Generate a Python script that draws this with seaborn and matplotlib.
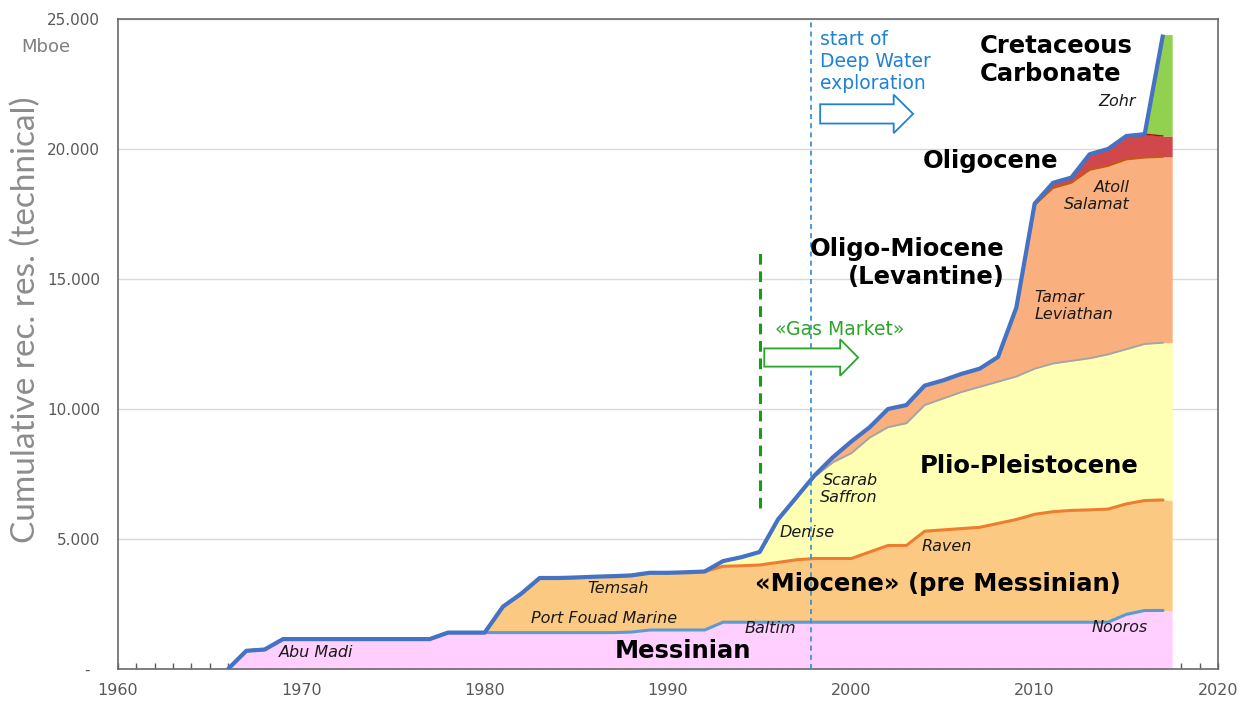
import numpy as np
import pandas as pd
import matplotlib
matplotlib.use("Agg")
import matplotlib.pyplot as plt
from matplotlib.patches import FancyArrow
from matplotlib.ticker import MultipleLocator, FuncFormatter
import seaborn as sns

# cumulative recoverable reserves by play (Mboe), one value per year 1966-2017
years = list(range(1966, 2018))

messinian = [0, 700, 750, 1150, 1150, 1150, 1150, 1150, 1150, 1150, 1150, 1150,
             1400, 1400, 1400, 1400, 1400, 1400, 1400, 1400, 1400, 1400, 1420,
             1500, 1500, 1500, 1500, 1800, 1800, 1800, 1800, 1800, 1800, 1800,
             1800, 1800, 1800, 1800, 1800, 1800, 1800, 1800, 1800, 1800, 1800,
             1800, 1800, 1800, 1800, 2100, 2250, 2250]
miocene = [0, 0, 0, 0, 0, 0, 0, 0, 0, 0, 0, 0, 0, 0, 0,
           1000, 1500, 2100, 2100, 2120, 2150, 2170, 2180, 2200, 2200, 2220,
           2250, 2150, 2170, 2200, 2300, 2400, 2450, 2450, 2450, 2700, 2950,
           2950, 3500, 3550, 3600, 3650, 3800, 3950, 4150, 4250, 4300, 4320,
           4350, 4250, 4230, 4250]
plio_pleistocene = [0, 0, 0, 0, 0, 0, 0, 0, 0, 0, 0, 0, 0, 0, 0, 0, 0, 0, 0,
                    0, 0, 0, 0, 0, 0, 0, 0,
                    200, 330, 500, 1650, 2400, 3150, 3700, 4050, 4400, 4550,
                    4700, 4850, 5050, 5250, 5400, 5450, 5500, 5600, 5700, 5750,
                    5830, 5950, 5950, 6020, 6050]
oligo_miocene = [0, 0, 0, 0, 0, 0, 0, 0, 0, 0, 0, 0, 0, 0, 0, 0, 0, 0, 0, 0,
                 0, 0, 0, 0, 0, 0, 0, 0, 0, 0, 0, 0,
                 50, 200, 450, 400, 700, 700, 750, 700, 700, 700, 950, 2650,
                 6300, 6750, 6850, 7250, 7250, 7300, 7170, 7150]
oligocene = [0, 0, 0, 0, 0, 0, 0, 0, 0, 0, 0, 0, 0, 0, 0, 0, 0, 0, 0, 0, 0, 0,
             0, 0, 0, 0, 0, 0, 0, 0, 0, 0, 0, 0, 0, 0, 0, 0, 0, 0, 0, 0, 0, 0,
             50, 200, 200, 600, 650, 900, 900, 800]
cretaceous = [0, 0, 0, 0, 0, 0, 0, 0, 0, 0, 0, 0, 0, 0, 0, 0, 0, 0, 0, 0, 0, 0,
              0, 0, 0, 0, 0, 0, 0, 0, 0, 0, 0, 0, 0, 0, 0, 0, 0, 0, 0, 0, 0, 0,
              0, 0, 0, 0, 0, 0, 0, 3900]

plays = ["Messinian", "Miocene", "Plio-Pleistocene", "Oligo-Miocene", "Oligocene", "Cretaceous"]
fill_colors = ["#ffd0ff", "#fcc983", "#ffffb4", "#f9b07e", "#d0484b", "#92d050"]
line_colors = ["#5b9bd5", "#ed7d31", "#a5a5a5", "#c55a11", "#c00000", None]
line_widths = [2.2, 2.2, 1.4, 1.4, 1.0, 0]

deep_water_year = 1997.8
gas_market_year = 1995

sns.set_theme(style="white")
plt.rcParams["font.family"] = ["DejaVu Sans"]

df = pd.DataFrame({"year": years, "Messinian": messinian, "Miocene": miocene,
                   "Plio-Pleistocene": plio_pleistocene, "Oligo-Miocene": oligo_miocene,
                   "Oligocene": oligocene, "Cretaceous": cretaceous})
tops = df[plays].cumsum(axis=1)
bottoms = tops.shift(1, axis=1).fillna(0)

fig = plt.figure(figsize=(12.47, 7.02), dpi=100)
ax = fig.add_axes([118 / 1247, 33 / 702, 1100 / 1247, 650 / 702])

# Excel-like area: fill reaches half a year past the last point
x_fill = np.append(df["year"].values, df["year"].values[-1] + 0.5)
for play, fc in zip(plays, fill_colors):
    lo = np.append(bottoms[play].values, bottoms[play].values[-1])
    hi = np.append(tops[play].values, tops[play].values[-1])
    ax.fill_between(x_fill, lo, hi, color=fc, linewidth=0, zorder=1)

for play, lc, lw in zip(plays, line_colors, line_widths):
    if lc is None:
        continue
    sns.lineplot(x=df["year"], y=tops[play], ax=ax, color=lc, linewidth=lw,
                 zorder=2, solid_joinstyle="round")
sns.lineplot(x=df["year"], y=tops["Cretaceous"], ax=ax, color="#4472c4",
             linewidth=3.0, zorder=3, solid_joinstyle="round", solid_capstyle="butt")

# markers for exploration phases
ax.axvline(deep_water_year, color="#2e8ad8", lw=1.2, ls=(0, (3, 2.5)), zorder=4)
ax.plot([gas_market_year, gas_market_year], [6200, 16100], color="#12a012",
        lw=2.2, ls=(0, (3.5, 2.2)), zorder=4)

ax.add_patch(FancyArrow(1998.3, 21350, 5.07, 0, width=740, head_width=1480,
                        head_length=1.06, length_includes_head=True,
                        facecolor="white", edgecolor="#1f82d2", lw=1.3, zorder=5))
ax.add_patch(FancyArrow(1995.25, 11980, 5.12, 0, width=700, head_width=1400,
                        head_length=0.98, length_includes_head=True,
                        facecolor="white", edgecolor="#2aa52a", lw=1.3, zorder=5))

ax.text(1998.27, 23380, "start of\nDeep Water\nexploration", color="#1f82d2",
        fontsize=13.5, ha="left", va="center", linespacing=1.2, zorder=6)
ax.text(1999.35, 13050, "«Gas Market»", color="#2aa52a", fontsize=13.5,
        ha="center", va="center", zorder=6)

bold = dict(fontsize=17.5, fontweight="bold", color="black", zorder=6, linespacing=1.2)
ax.text(1990.8, 700, "Messinian", ha="center", va="center", **bold)
ax.text(2004.7, 3250, "«Miocene» (pre Messinian)", ha="center", va="center", **bold)
ax.text(2009.7, 7800, "Plio-Pleistocene", ha="center", va="center", **bold)
ax.text(2008.36, 15610, "Oligo-Miocene\n(Levantine)", ha="right", va="center",
        multialignment="right", **bold)
ax.text(2007.6, 19520, "Oligocene", ha="center", va="center", **bold)
ax.text(2007.0, 23430, "Cretaceous\nCarbonate", ha="left", va="center", **bold)

ital = dict(fontsize=11.5, style="italic", color="#1a1a1a", zorder=6, linespacing=1.15)
ax.text(2015.5, 21840, "Zohr", ha="right", va="center", **ital)
ax.text(2015.2, 18200, "Atoll\nSalamat", ha="right", va="center", multialignment="right", **ital)
ax.text(2010.0, 13960, "Tamar\nLeviathan", ha="left", va="center", **ital)
ax.text(2001.45, 6910, "Scarab\nSaffron", ha="right", va="center", multialignment="right", **ital)
ax.text(1997.6, 5260, "Denise", ha="center", va="center", **ital)
ax.text(2005.2, 4710, "Raven", ha="center", va="center", **ital)
ax.text(1995.6, 1570, "Baltim", ha="center", va="center", **ital)
ax.text(2014.65, 1600, "Nooros", ha="center", va="center", **ital)
ax.text(1987.3, 3100, "Temsah", ha="center", va="center", **ital)
ax.text(1986.5, 1960, "Port Fouad Marine", ha="center", va="center", **ital)
ax.text(1970.8, 640, "Abu Madi", ha="center", va="center", **ital)

# axes styling
ax.set_xlim(1960, 2020)
ax.set_ylim(0, 25000)
ax.xaxis.set_major_locator(MultipleLocator(10))
ax.xaxis.set_minor_locator(MultipleLocator(1))
ax.yaxis.set_major_locator(MultipleLocator(5000))
ax.yaxis.set_major_formatter(FuncFormatter(
    lambda v, p: "-  " if v == 0 else f"{int(v):,}".replace(",", ".")))
ax.tick_params(axis="x", which="both", direction="in", length=4, width=1,
               color="#595959", bottom=True)
ax.tick_params(axis="x", which="major", labelsize=11.5, labelcolor="#595959", pad=10)
ax.tick_params(axis="y", length=0, pad=13, labelsize=11, labelcolor="#595959")
ax.grid(axis="y", color="#d9d9d9", lw=1)
ax.grid(axis="x", visible=False)
ax.set_axisbelow(True)
for s in ax.spines.values():
    s.set_visible(True)
    s.set_color("#6a6a6a")
    s.set_linewidth(1.2)
ax.set_xlabel("")
ax.set_ylabel("")

fig.text(46 / 1247, 1 - 47 / 702, "Mboe", color="#7f7f7f", fontsize=13,
         ha="center", va="center")
fig.text(26 / 1247, 1 - 320 / 702, "Cumulative rec. res. (technical)",
         color="#8c8c8c", fontsize=24, rotation=90, ha="center", va="center",
         family=["Lato", "DejaVu Sans"])

fig.savefig("out.png", dpi=100, facecolor="white")
